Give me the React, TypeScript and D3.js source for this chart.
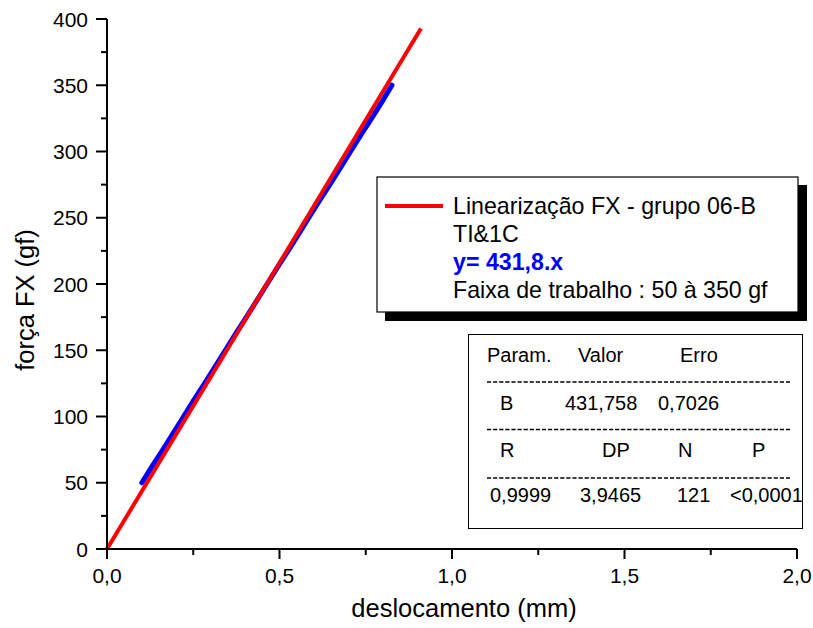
import React from "react";
import * as d3 from "d3";

const xTicks = [0, 0.5, 1.0, 1.5, 2.0];
const xTickLabels = ["0,0", "0,5", "1,0", "1,5", "2,0"];
const yTicks = [0, 50, 100, 150, 200, 250, 300, 350, 400];

// measured data (deslocamento mm, força gf)
const dataX = [0.101, 0.131, 0.162, 0.192, 0.222, 0.252, 0.283, 0.313, 0.343, 0.373, 0.404, 0.434, 0.464, 0.494, 0.525, 0.555, 0.585, 0.615, 0.646, 0.676, 0.706, 0.736, 0.767, 0.797, 0.826];
const dataY = [50, 62.5, 75, 87.5, 100, 112.5, 125, 137.5, 150, 162.5, 175, 187.5, 200, 212.5, 225, 237.5, 250, 262.5, 275, 287.5, 300, 312.5, 325, 337.5, 350];

const slopeB = 431.758;
const fitX = [0, 0.91];

const legendLines = ["Linearização FX - grupo 06-B", "TI&1C", "y= 431,8.x", "Faixa de trabalho : 50 à 350 gf"];

const tableRows = [
  [["Param.", 487], ["Valor", 578], ["Erro", 680]],
  [["B", 500], ["431,758", 565], ["0,7026", 658]],
  [["R", 500], ["DP", 602], ["N", 678], ["P", 752]],
  [["0,9999", 490], ["3,9465", 580], ["121", 677], ["<0,0001", 730]],
] as [string, number][][];

export default function App() {
  const W = 813, H = 628;
  const x = d3.scaleLinear().domain([0, 2]).range([107, 797]);
  const y = d3.scaleLinear().domain([0, 400]).range([549, 19]);
  const font = "Liberation Sans, Arial, sans-serif";

  const dataLine = d3.line<number>().x((d) => x(d)).y((_, i) => y(dataY[i]))(dataX) || "";
  const fitLine = d3.line<number>().x((d) => x(d)).y((d) => y(d * slopeB))(fitX) || "";

  const xMinor = d3.range(0.25, 2, 0.5);
  const yMinor = d3.range(25, 400, 50);

  const rowBase = [362, 410, 457, 502];
  const dashY = [382, 429.5, 478];

  return (
    <svg width={W} height={H} style={{ position: "absolute", left: 0, top: 0 }} fontFamily={font}>
      <rect width={W} height={H} fill="#fff" />
      {/* data */}
      <path d={dataLine} fill="none" stroke="#0000ff" strokeWidth={5} strokeLinecap="round" />
      <path d={fitLine} fill="none" stroke="#ff0000" strokeWidth={4} />
      {/* axes */}
      <line x1={x(0)} x2={x(2)} y1={y(0)} y2={y(0)} stroke="#000" strokeWidth={2} />
      <line x1={x(0)} x2={x(0)} y1={y(0)} y2={y(400)} stroke="#000" strokeWidth={2} />
      {xTicks.map((t, i) => (
        <g key={"xt" + i}>
          <line x1={x(t)} x2={x(t)} y1={y(0)} y2={y(0) + 10} stroke="#000" strokeWidth={2} />
          <text x={x(t)} y={583} fontSize={21} textAnchor="middle">{xTickLabels[i]}</text>
        </g>
      ))}
      {xMinor.map((t, i) => (
        <line key={"xm" + i} x1={x(t)} x2={x(t)} y1={y(0)} y2={y(0) + 6} stroke="#000" strokeWidth={2} />
      ))}
      {yTicks.map((t, i) => (
        <g key={"yt" + i}>
          <line x1={x(0) - 11} x2={x(0)} y1={y(t)} y2={y(t)} stroke="#000" strokeWidth={2} />
          <text x={88} y={y(t) + 7.5} fontSize={21} textAnchor="end">{t}</text>
        </g>
      ))}
      {yMinor.map((t, i) => (
        <line key={"ym" + i} x1={x(0) - 6} x2={x(0)} y1={y(t)} y2={y(t)} stroke="#000" strokeWidth={2} />
      ))}
      <text x={464} y={617} fontSize={25.5} textAnchor="middle">deslocamento (mm)</text>
      <text transform="translate(34,300) rotate(-90)" fontSize={25.5} textAnchor="middle">força FX (gf)</text>

      {/* legend */}
      <rect x={385} y={185} width={422} height={136} fill="#000" />
      <rect x={377} y={177} width={421} height={135} fill="#fff" stroke="#000" strokeWidth={1.2} />
      <line x1={385} x2={443} y1={206} y2={206} stroke="#ff0000" strokeWidth={4} />
      <text x={453} y={214} fontSize={23.2}>{legendLines[0]}</text>
      <text x={453} y={242} fontSize={23.2}>{legendLines[1]}</text>
      <text x={453} y={270} fontSize={23.2} fontWeight="bold" fill="#0000ff">{legendLines[2]}</text>
      <text x={453} y={298} fontSize={23.2}>{legendLines[3]}</text>

      {/* table */}
      <rect x={468.5} y={334.5} width={334} height={194} fill="#fff" stroke="#000" strokeWidth={1} />
      {tableRows.map((row, r) =>
        row.map(([s, px], c) => (
          <text key={r + "-" + c} x={px} y={rowBase[r]} fontSize={20}>{s}</text>
        ))
      )}
      {dashY.map((dy, i) => (
        <line key={"d" + i} x1={487} x2={790} y1={dy} y2={dy} stroke="#000" strokeWidth={1.4} strokeDasharray="4.2,1.9" />
      ))}
    </svg>
  );
}
